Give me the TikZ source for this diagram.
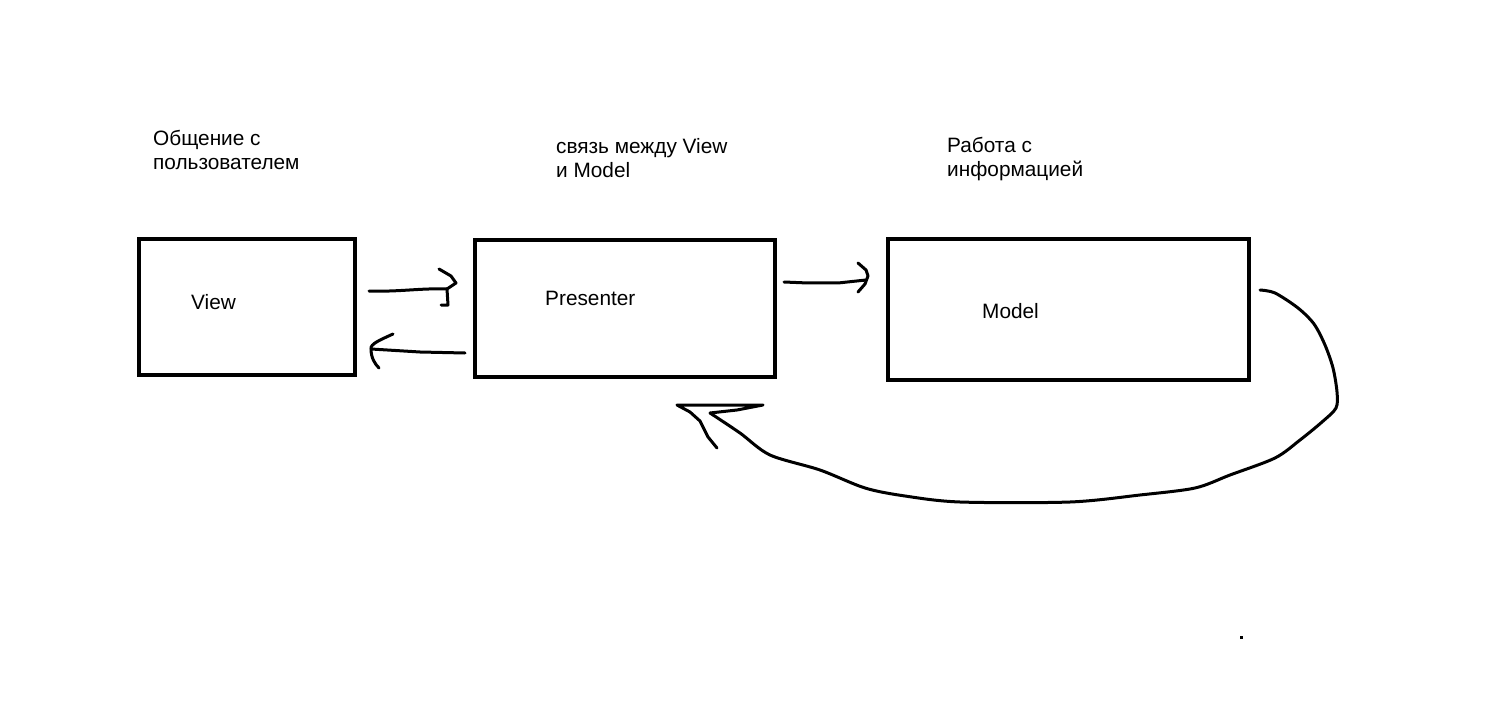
\documentclass[tikz,border=0pt]{standalone}
\usepackage{fontspec}
\setmainfont{Liberation Sans}

\tikzset{
  block/.style={draw, line width=4pt, inner sep=0pt},
  caption/.style={anchor=north west, inner sep=0pt, align=left, font=\fontsize{20.8}{24}\selectfont},
  stroke/.style={line width=3pt, line cap=round, line join=round}
}

\begin{document}
\begin{tikzpicture}[x=1pt, y=-1pt]
  \useasboundingbox (0,0) rectangle (1488,703);

  % boxes
  \node [block, minimum width=216pt, minimum height=136pt] (view) at (247,307) {};
  \node [block, minimum width=300pt, minimum height=137pt] (presenter) at (625,308.5) {};
  \node [block, minimum width=361pt, minimum height=141pt] (model) at (1068.5,309.5) {};

  \node [caption] (viewlbl) at (191,294) {View};
  \node [caption] (presenterlbl) at (545,291) {Presenter};
  \node [caption] (modellbl) at (982,303) {Model};

  % notes above
  \node [caption] (viewnote) at (153,130) {Общение с\\пользователем};
  \node [caption] (presenternote) at (556,138) {связь между View\\и Model};
  \node [caption] (modelnote) at (947,137) {Работа с\\информацией};

  % view -> presenter
  \coordinate (vp1) at (369,291);
  \coordinate (vp2) at (447,289);
  \draw [stroke] (vp1) .. controls (400,292) and (420,288) .. (vp2);
  \draw [stroke] (439,269) -- (451,276) -- (456,283) -- (vp2) -- (448,305) -- (441,305);

  % presenter -> view
  \coordinate (pv1) at (465,353);
  \coordinate (pv2) at (371,349);
  \draw [stroke] (pv1) -- (420,352) -- (pv2);
  \draw [stroke] (393,334) .. controls (380,340) and (370,344) .. (pv2) .. controls (371,358) and (375,364) .. (379,368);

  % presenter -> model
  \coordinate (pm1) at (784,282);
  \coordinate (pm2) at (866,280);
  \draw [stroke] (pm1) -- (808,283) -- (838,283) -- (pm2);
  \draw [stroke] (858,263) -- (866,270) -- (868,276) -- (865,284) -- (858,292);

  % model -> presenter
  \coordinate (mp1) at (1260,290);
  \coordinate (mp2) at (710,413);
  \draw [stroke] plot [smooth] coordinates {(mp1) (1275,293) (1298,308) (1314,324) (1325,345) (1333,368) (1337,392) (1336,408) (1322,422) (1300,440) (1275,458) (1230,475) (1195,488) (1140,495) (1070,502) (960,502) (905,496) (865,488) (820,470) (770,455) (740,433) (mp2)};
  \draw [stroke] (mp2) -- (737,410) -- (763,405) -- (677,405) -- (690,412) -- (700,421) -- (708,437) -- (717,448);

  \fill (1240,636) rectangle (1243,639);
\end{tikzpicture}
\end{document}
